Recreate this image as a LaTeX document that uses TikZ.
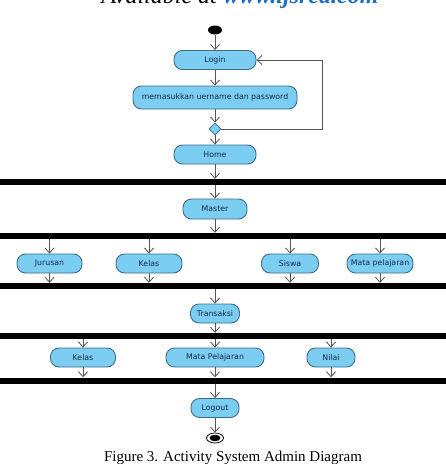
\documentclass[tikz,border=0pt]{standalone}
\usepackage{fontspec}
\setmainfont{Liberation Serif}
\setsansfont{DejaVu Sans}
\usetikzlibrary{arrows.meta,shapes.geometric}
\definecolor{actfill}{HTML}{7CCDF2}
\definecolor{actdraw}{HTML}{3D6E8C}
\definecolor{acttext}{HTML}{142848}
\definecolor{linegray}{HTML}{555555}
\definecolor{urlblue}{HTML}{1F6FC0}
\tikzset{
  act/.style={draw=actdraw, line width=0.9pt, fill=actfill, rounded corners=8.5pt,
    minimum height=19pt, inner sep=0pt, font=\sffamily\fontsize{7.8}{9}\selectfont,
    text=acttext},
  bar/.style={fill=black, draw=none, minimum width=446pt, minimum height=6pt, inner sep=0pt},
  flow/.style={draw=linegray, line width=0.8pt, -{Straight Barb[length=5pt,width=9pt,line width=0.8pt]}},
  plain/.style={draw=linegray, line width=0.8pt},
}
\begin{document}
\begin{tikzpicture}[x=1pt,y=-1pt]
\useasboundingbox (0,0) rectangle (446,464);
% header (cut off at the top edge, as in the reference)
\node[anchor=base, inner sep=0pt, font=\fontsize{24}{26}\selectfont] (hdr) at (240,3.2)
  {\textit{Available at} \textcolor{urlblue}{\textbf{\textit{www.ijsred.com}}}};
% start
\node[ellipse, fill=black, minimum width=14pt, minimum height=9pt, inner sep=0pt] (start) at (215,30) {};
\node[act, minimum width=82pt] (login) at (215,60) {Login};
\node[act, minimum width=164pt, minimum height=23pt] (input) at (215,97.5) {memasukkan uername dan password};
\node[diamond, draw=actdraw, fill=actfill, line width=0.8pt, minimum width=12pt, minimum height=12pt, inner sep=0pt] (dec) at (215,129) {};
\coordinate (loopr) at (322,129);
\coordinate (loopt) at (322,60);
\node[act, minimum width=82pt] (home) at (215,154.5) {Home};
\node[bar] (bar1) at (223,182) {};
\node[act, minimum width=64pt, minimum height=20pt] (master) at (215,209) {Master};
\node[bar] (bar2) at (223,236) {};
\node[act, minimum width=65pt] (jur) at (49.5,263.5) {Jurusan};
\node[act, minimum width=66pt] (kelas1) at (149,263.5) {Kelas};
\node[act, minimum width=57pt] (siswa) at (290,263.5) {Siswa};
\node[act, minimum width=66pt] (mapel1) at (380,263.5) {Mata pelajaran};
\node[bar] (bar3) at (223,286) {};
\node[act, minimum width=49pt] (trans) at (215,313.5) {Transaksi};
\node[bar] (bar4) at (223,336) {};
\node[act, minimum width=65pt] (kelas2) at (83,357.5) {Kelas};
\node[act, minimum width=98pt] (mapel2) at (215,357.5) {Mata Pelajaran};
\node[act, minimum width=48pt] (nilai) at (331,357.5) {Nilai};
\node[bar] (bar5) at (223,380.5) {};
\node[act, minimum width=48pt] (logout) at (215,408) {Logout};
\node[ellipse, draw=black, line width=0.8pt, fill=white, minimum width=17pt, minimum height=10pt, inner sep=0pt] (endo) at (215,438) {};
\node[ellipse, fill=black, minimum width=11pt, minimum height=6.5pt, inner sep=0pt] (endi) at (215,438) {};
% caption
\node[anchor=base, inner sep=0pt, font=\fontsize{15}{17}\selectfont] (cap) at (233,461) {Figure 3. Activity System Admin Diagram};
% connectors
\draw[flow] (start) -- (login);
\draw[flow] (login) -- (input);
\draw[flow] (input) -- (dec);
\draw[plain] (dec.east) -- (loopr) -- (loopt);
\draw[flow] (loopt) -- (login.east);
\draw[flow] (dec) -- (home);
\draw[flow] (home) -- (home |- bar1.north);
\draw[flow] (master |- bar1.south) -- (master);
\draw[flow] (master) -- (master |- bar2.north);
\foreach \n in {jur,kelas1,siswa,mapel1}{
  \draw[flow] (bar2.south -| \n) -- (\n);
  \draw[flow] (\n) -- (\n |- bar3.north);
}
\draw[flow] (bar3.south -| trans) -- (trans);
\draw[flow] (trans) -- (trans |- bar4.north);
\foreach \n in {kelas2,mapel2,nilai}{
  \draw[flow] (bar4.south -| \n) -- (\n);
  \draw[flow] (\n) -- (\n |- bar5.north);
}
\draw[flow] (bar5.south -| logout) -- (logout);
\draw[flow] (logout) -- (endo);
\end{tikzpicture}
\end{document}
